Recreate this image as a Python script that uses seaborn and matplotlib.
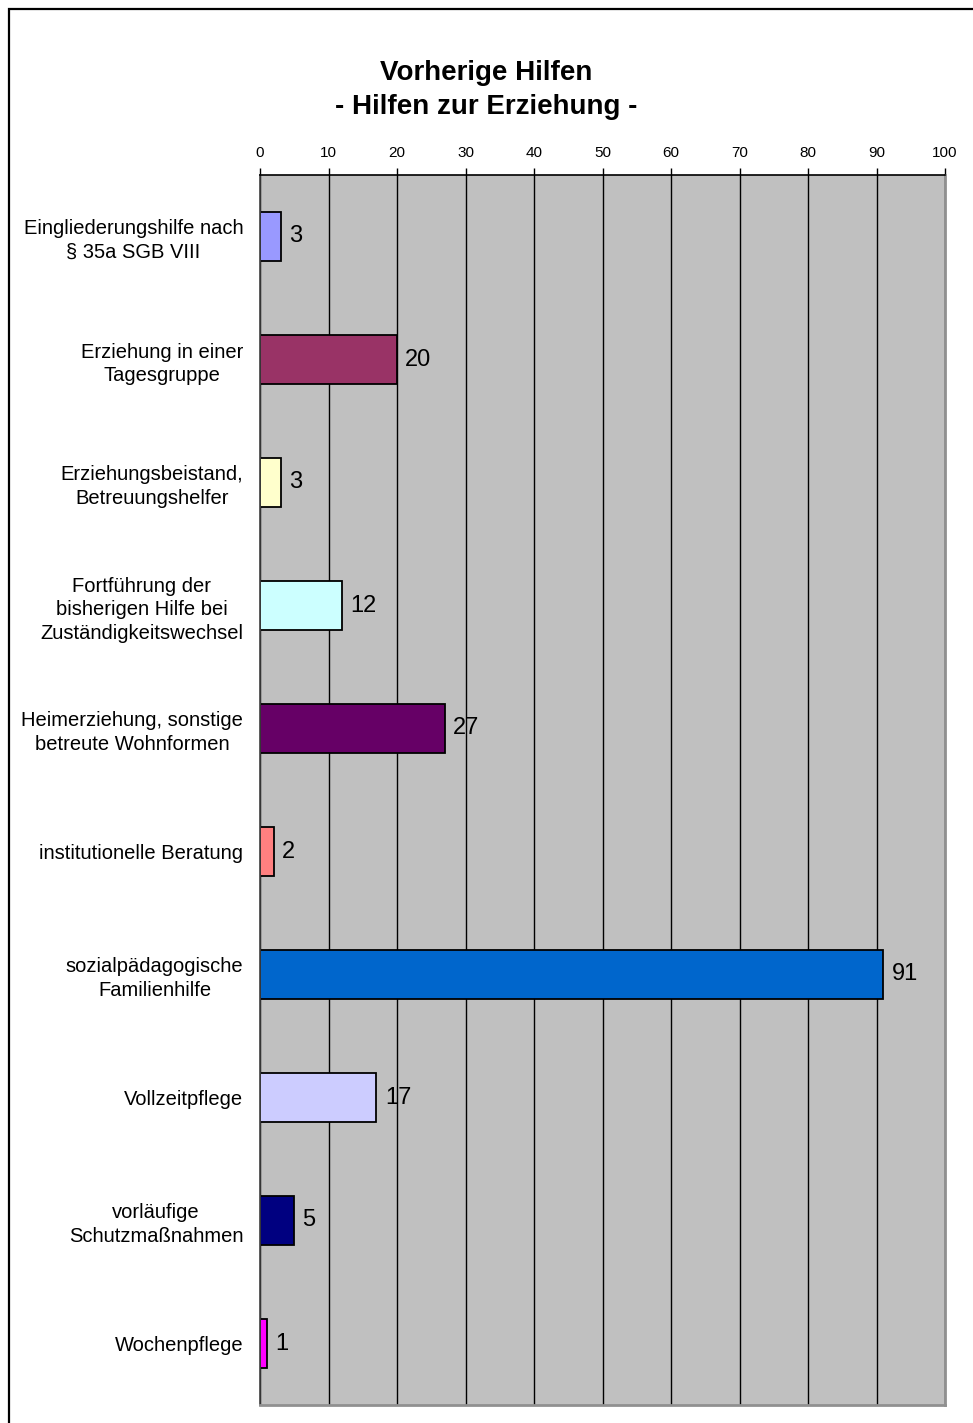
import numpy as np
import pandas as pd
import matplotlib
matplotlib.use('agg')
import matplotlib.pyplot as plt
from matplotlib.patches import Rectangle
import seaborn as sns

kategorien = [
    "Eingliederungshilfe nach\n§ 35a SGB VIII",
    "Erziehung in einer\nTagesgruppe",
    "Erziehungsbeistand,\nBetreuungshelfer",
    "Fortführung der\nbisherigen Hilfe bei\nZuständigkeitswechsel",
    "Heimerziehung, sonstige\nbetreute Wohnformen",
    "institutionelle Beratung",
    "sozialpädagogische\nFamilienhilfe",
    "Vollzeitpflege",
    "vorläufige\nSchutzmaßnahmen",
    "Wochenpflege",
]
anzahl = [3, 20, 3, 12, 27, 2, 91, 17, 5, 1]
farben = ["#9999FF", "#993366", "#FFFFCC", "#CCFFFF", "#660066",
          "#FF8080", "#0066CC", "#CCCCFF", "#000080", "#FF00FF"]
x_ticks = list(range(0, 101, 10))

sns.set_style("white")
plt.rcParams['font.family'] = ['Liberation Sans', 'DejaVu Sans']
plt.rcParams['text.color'] = 'black'
plt.rcParams['xtick.color'] = 'black'
plt.rcParams['ytick.color'] = 'black'
plt.rcParams['xtick.labelcolor'] = 'black'
plt.rcParams['ytick.labelcolor'] = 'black'

df = pd.DataFrame({"kategorie": kategorien, "anzahl": anzahl})

fig = plt.figure(figsize=(9.73, 14.23), dpi=100)
ax = fig.add_axes([260 / 973, 1 - 1405 / 1423, 685 / 973, 1230 / 1423])

sns.barplot(data=df, x="anzahl", y="kategorie", hue="kategorie",
            palette=farben, orient="h", width=0.4, legend=False,
            edgecolor="black", linewidth=1.3, saturation=1, ax=ax)

ax.set_facecolor("#C0C0C0")
ax.set_xlim(0, 100)
ax.set_ylim(len(kategorien) - 0.5, -0.5)
ax.set_axisbelow(True)
ax.xaxis.grid(True, color="black", linewidth=1.0)
ax.yaxis.grid(False)

ax.xaxis.tick_top()
ax.set_xticks(x_ticks)
ax.tick_params(axis="x", direction="out", length=5, width=1, color="black",
               labelsize=11, pad=6)
ax.set_xlabel("")
ax.set_ylabel("")

ax.set_yticks(np.arange(len(kategorien)))
ax.set_yticks(np.arange(len(kategorien) + 1) - 0.5, minor=True)
ax.set_yticklabels(kategorien, fontsize=14.5, multialignment="center",
                   linespacing=1.3, color="black")
ax.tick_params(axis="y", which="major", length=0, pad=12)
ax.tick_params(axis="y", which="minor", direction="out", length=7,
               width=1, color="#404040")

for side in ["left", "right", "top", "bottom"]:
    ax.spines[side].set_visible(True)
ax.spines["top"].set_color("black")
ax.spines["top"].set_linewidth(1.2)
ax.spines["left"].set_color("#404040")
ax.spines["left"].set_linewidth(1.2)
ax.spines["right"].set_color("#909090")
ax.spines["right"].set_linewidth(2)
ax.spines["bottom"].set_color("#909090")
ax.spines["bottom"].set_linewidth(2)

for c in ax.containers:
    ax.bar_label(c, fmt="%d", padding=6, fontsize=17, color="black")

fig.text(0.5, 1 - 90 / 1423, "Vorherige Hilfen\n- Hilfen zur Erziehung -",
         ha="center", va="center", fontsize=20, fontweight="bold",
         linespacing=1.35, color="black")

rahmen = Rectangle((8.5 / 973, -0.1), 1.2, 1 - 9.5 / 1423 + 0.1,
                   transform=fig.transFigure, fill=False,
                   edgecolor="black", linewidth=1.6)
fig.patches.append(rahmen)

fig.savefig("out.png", dpi=100)
plt.close()
